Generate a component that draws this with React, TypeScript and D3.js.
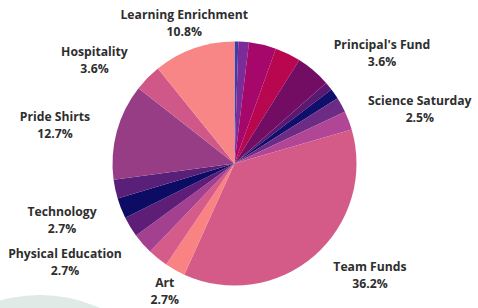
import * as d3 from "d3";

const WIDTH = 478;
const HEIGHT = 308;

// slices clockwise from 12 o'clock (percent of total)
const sliceNames = [
  "s1", "s2", "Principal's Fund", "s4", "s5", "s6", "s7", "s8",
  "Science Saturday", "Team Funds", "Art", "s12", "s13",
  "Physical Education", "Technology", "s16", "Pride Shirts",
  "Hospitality", "Learning Enrichment",
];
const sliceValues = [
  0.5, 1.4, 3.6, 3.4, 4.6, 1.1, 1.4, 2.0,
  2.5, 36.2, 2.7, 2.7, 2.8,
  2.7, 2.7, 2.5, 12.7,
  3.6, 10.8,
];
const sliceColors = [
  "#3d3fa6", "#7b2c98", "#a5086a", "#b8064f", "#730c63", "#5c1870", "#10106c", "#6c2c86",
  "#b14596", "#d45a88", "#f98382", "#d55b8a", "#a3408f",
  "#5e1d77", "#0c0c64", "#5a1f78", "#963d86",
  "#d05888", "#f88686",
];

// labelled slices and the percentage text shown
const labelNames = [
  "Learning Enrichment", "Hospitality", "Pride Shirts", "Technology",
  "Physical Education", "Art", "Team Funds", "Science Saturday", "Principal's Fund",
];
const labelTexts = ["10.8%", "3.6%", "12.7%", "2.7%", "2.7%", "2.7%", "36.2%", "2.5%", "3.6%"];

// label placement around the pie: angle (deg, clockwise from top) and distance
const labelAngles = [340.3, 306.4, 282, 251.7, 239.7, 208.6, 129.6, 73.8, 53.3];
const labelRadii = [149, 174, 183.5, 181.7, 196.3, 145.6, 175.8, 193, 184];

const CX = 234.5;
const CY = 163.5;
const R = 122;

export default function App() {
  const pie = d3
    .pie<number>()
    .sort(null)
    .value((d) => d);
  const arcs = pie(sliceValues);
  const arcGen = d3.arc<d3.PieArcDatum<number>>().innerRadius(0).outerRadius(R);

  const labels = labelNames.map((name, i) => {
    const a = (labelAngles[i] * Math.PI) / 180;
    const x = CX + labelRadii[i] * Math.sin(a);
    const y = CY - labelRadii[i] * Math.cos(a);
    return (
      <text
        key={name}
        x={x}
        y={y}
        textAnchor="middle"
        fontFamily="'Open Sans', sans-serif"
        fontWeight={700}
        fontSize={12.2}
        fill="#2e2e2e"
      >
        <tspan x={x} dy={-4.3}>{name}</tspan>
        <tspan x={x} dy={17}>{labelTexts[i]}</tspan>
      </text>
    );
  });

  return (
    <svg
      width={WIDTH}
      height={HEIGHT}
      style={{ position: "absolute", left: 0, top: 0, background: "#fff" }}
    >
      <circle cx={40} cy={440} r={145} fill="#dfe9e5" />
      <g transform={`translate(${CX},${CY})`}>
        {arcs.map((d, i) => (
          <path key={sliceNames[i] + i} d={arcGen(d) ?? ""} fill={sliceColors[i]} />
        ))}
      </g>
      {labels}
    </svg>
  );
}
